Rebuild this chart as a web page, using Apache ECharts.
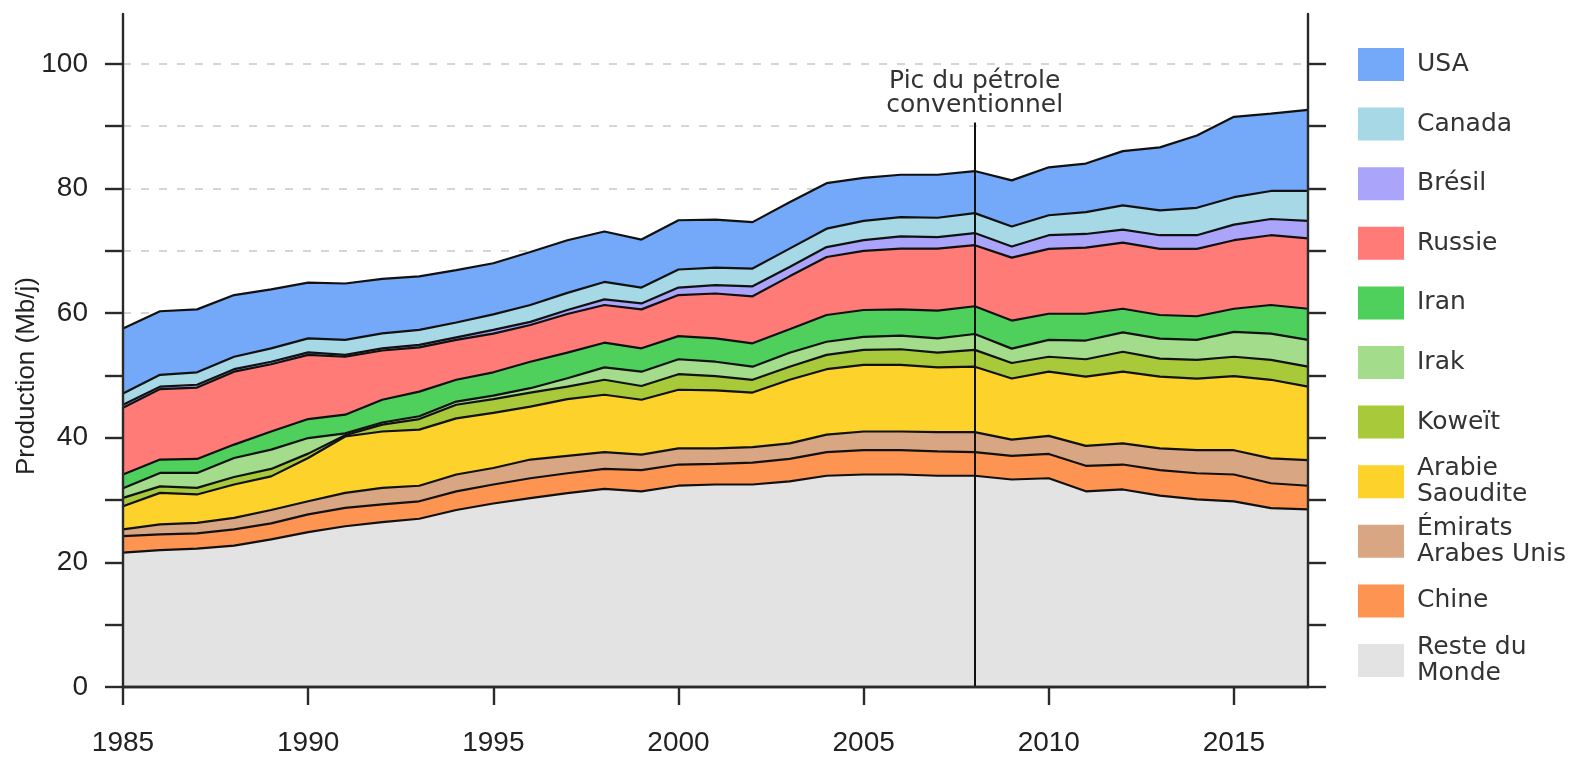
<!DOCTYPE html>
<html>
<head>
<meta charset="utf-8">
<title>Production de pétrole</title>
<script src="https://cdn.jsdelivr.net/npm/echarts@6/dist/echarts.min.js"></script>
<style>
html, body { margin: 0; padding: 0; background: #fff; }
#charts { width: 1575px; height: 757px; }
</style>
</head>
<body>
<div id="charts"></div>
<script>
// années
const years = ['1985', '1986', '1987', '1988', '1989', '1990', '1991', '1992', '1993', '1994',
    '1995', '1996', '1997', '1998', '1999', '2000', '2001', '2002', '2003', '2004',
    '2005', '2006', '2007', '2008', '2009', '2010', '2011', '2012', '2013', '2014',
    '2015', '2016', '2017'];

// production par pays (Mb/j)
const reste = [21.55, 21.97, 22.2, 22.7, 23.7, 24.85, 25.8, 26.45, 27.0, 28.4,
    29.45, 30.3, 31.1, 31.8, 31.4, 32.3, 32.5, 32.5, 33.0, 33.9,
    34.1, 34.1, 33.9, 33.9, 33.3, 33.5, 31.4, 31.7, 30.7, 30.1,
    29.8, 28.7, 28.5];
const chine = [2.65, 2.53, 2.45, 2.6, 2.55, 2.85, 2.95, 2.85, 2.8, 3.0,
    3.05, 3.2, 3.2, 3.2, 3.4, 3.4, 3.3, 3.5, 3.6, 3.8,
    3.9, 3.9, 3.9, 3.8, 3.8, 3.9, 4.1, 4.0, 4.1, 4.2,
    4.3, 4.0, 3.8];
const emirats = [1.1, 1.6, 1.7, 1.85, 2.15, 2.1, 2.4, 2.65, 2.5, 2.7,
    2.65, 3.0, 2.8, 2.7, 2.5, 2.6, 2.5, 2.5, 2.5, 2.8,
    3.0, 3.0, 3.1, 3.2, 2.6, 2.9, 3.2, 3.4, 3.5, 3.7,
    3.9, 4.0, 4.1];
const arabie = [3.7, 5.05, 4.55, 5.35, 5.4, 6.95, 9.05, 9.05, 9.0, 9.0,
    8.85, 8.5, 9.1, 9.2, 8.8, 9.4, 9.3, 8.75, 10.2, 10.5,
    10.7, 10.7, 10.4, 10.5, 9.8, 10.3, 11.1, 11.5, 11.5, 11.5,
    11.9, 12.6, 11.8];
const koweit = [1.35, 1.05, 1.05, 1.2, 1.2, 0.7, 0.2, 1.1, 1.7, 2.2,
    2.2, 2.25, 2.0, 2.4, 2.2, 2.5, 2.3, 2.05, 2.1, 2.3,
    2.4, 2.5, 2.35, 2.7, 2.5, 2.4, 2.8, 3.2, 2.9, 3.0,
    3.1, 3.2, 3.2];
const irak = [1.55, 2.15, 2.4, 3.05, 3.1, 2.5, 0.3, 0.35, 0.45, 0.5,
    0.55, 0.7, 1.35, 2.0, 2.3, 2.4, 2.3, 2.1, 2.25, 2.1,
    2.1, 2.2, 2.3, 2.55, 2.3, 2.7, 3.0, 3.1, 3.2, 3.2,
    4.0, 4.2, 4.3];
const iran = [2.2, 2.15, 2.25, 2.15, 2.9, 3.05, 3.0, 3.65, 3.95, 3.5,
    3.75, 4.25, 4.1, 3.95, 3.75, 3.7, 3.75, 3.75, 3.75, 4.3,
    4.3, 4.2, 4.45, 4.45, 4.5, 4.2, 4.3, 3.8, 3.8, 3.8,
    3.7, 4.6, 5.0];
const russie = [10.7, 11.3, 11.45, 11.7, 10.8, 10.3, 9.3, 7.9, 7.1, 6.4,
    6.2, 5.9, 6.2, 6.05, 6.25, 6.6, 7.2, 7.55, 8.5, 9.3,
    9.5, 9.75, 9.95, 9.8, 10.1, 10.4, 10.6, 10.6, 10.6, 10.8,
    11.0, 11.2, 11.3];
const bresil = [0.5, 0.4, 0.45, 0.4, 0.4, 0.4, 0.3, 0.35, 0.4, 0.4,
    0.6, 0.5, 0.65, 0.9, 0.95, 1.2, 1.35, 1.6, 1.5, 1.6,
    1.7, 1.95, 1.85, 1.95, 1.8, 2.2, 2.2, 2.1, 2.2, 2.2,
    2.5, 2.6, 2.8];
const canada = [1.8, 1.9, 2.0, 2.0, 2.15, 2.25, 2.4, 2.4, 2.4, 2.4,
    2.5, 2.7, 2.75, 2.8, 2.55, 2.9, 2.8, 2.85, 2.95, 2.95,
    3.1, 3.1, 3.1, 3.2, 3.2, 3.2, 3.5, 3.9, 4.0, 4.4,
    4.4, 4.5, 4.8];
const usa = [10.45, 10.2, 10.1, 9.9, 9.45, 8.95, 9.05, 8.75, 8.6, 8.4,
    8.2, 8.5, 8.45, 8.1, 7.7, 7.9, 7.7, 7.45, 7.45, 7.3,
    6.9, 6.8, 6.9, 6.75, 7.4, 7.7, 7.8, 8.7, 10.1, 11.6,
    12.9, 12.4, 13.0];

// de bas en haut
const names = ['Reste du Monde', 'Chine', 'Émirats Arabes Unis', 'Arabie Saoudite', 'Koweït',
    'Irak', 'Iran', 'Russie', 'Brésil', 'Canada', 'USA'];
const legendLabels = {
    'Reste du Monde': 'Reste du\nMonde',
    'Émirats Arabes Unis': 'Émirats\nArabes Unis',
    'Arabie Saoudite': 'Arabie\nSaoudite'
};
const colors = ['#e3e3e3', '#fd9452', '#d9a683', '#fdd22a', '#a7c93a',
    '#a3dd8c', '#4fcf5b', '#ff7b78', '#aaa5fb', '#a6d8e6', '#74a8f8'];

const yTicks = [0, 10, 20, 30, 40, 50, 60, 70, 80, 90, 100];
const yLabels = [0, 20, 40, 60, 80, 100];
const peakYear = '2008';
const peakTop = 90.6;
const peakText = 'Pic du pétrole\nconventionnel';

var option;
let myChart = echarts.init(document.getElementById('charts'));

const values = [reste, chine, emirats, arabie, koweit, irak, iran, russie, bresil, canada, usa];

var series = names.map(function (n, i) {
    return {
        name: n,
        type: 'line',
        stack: 'total',
        data: values[i],
        symbol: 'none',
        showSymbol: false,
        lineStyle: { color: '#111', width: 2.2 },
        areaStyle: { color: colors[i], opacity: 1 },
        emphasis: { disabled: true },
        z: 2
    };
});

// trait vertical du pic
series[series.length - 1].markLine = {
    silent: true,
    symbol: 'none',
    animation: false,
    lineStyle: { color: '#111', width: 2, type: 'solid' },
    label: {
        show: true,
        position: 'end',
        distance: 5,
        formatter: peakText,
        fontFamily: 'DejaVu Sans',
        fontSize: 25,
        lineHeight: 24,
        color: '#333'
    },
    data: [[{ coord: [peakYear, 0] }, { coord: [peakYear, peakTop] }]]
};

// une légende par pays, pour placer chaque carré
const legendOrder = names.slice().reverse();
var legends = legendOrder.map(function (n, i) {
    const label = legendLabels[n] || n;
    const lines = label.split('\n').length;
    const half = Math.max(16.5, lines * 26 / 2);
    return {
        data: [{ name: n, icon: 'rect', itemStyle: { color: colors[names.indexOf(n)], borderWidth: 0 } }],
        orient: 'vertical',
        left: 1358,
        top: 64.5 + i * 59.6 - half,
        padding: 0,
        itemWidth: 46,
        itemHeight: 33,
        selectedMode: false,
        formatter: function () { return label; },
        textStyle: {
            fontFamily: 'DejaVu Sans',
            fontSize: 25,
            lineHeight: 26,
            color: '#333',
            padding: [0, 0, 0, 8]
        }
    };
});

const axisCol = '#2a2a2a';

option = {
    animation: false,
    backgroundColor: '#fff',
    grid: { left: 123, right: 267, top: 14, bottom: 69 },
    legend: legends,
    xAxis: [{
        type: 'category',
        data: years,
        boundaryGap: false,
        z: 5,
        axisLine: { show: true, lineStyle: { color: axisCol, width: 2.4 } },
        axisTick: { show: true, interval: 4, length: 18, lineStyle: { color: axisCol, width: 2.4 } },
        axisLabel: { interval: 4, margin: 42, fontFamily: 'Liberation Sans', fontSize: 28, color: '#222' },
        splitLine: { show: false }
    }, {
        type: 'category',
        data: years,
        boundaryGap: false,
        position: 'top',
        z: 5,
        axisLine: { show: true, lineStyle: { color: axisCol, width: 2.4 } },
        axisTick: { show: false },
        axisLabel: { show: false },
        splitLine: { show: false }
    }],
    yAxis: [{
        type: 'value',
        min: 0, max: 108, interval: 10,
        position: 'left',
        z: 5,
        axisLine: { show: true, lineStyle: { color: axisCol, width: 2.4 } },
        axisTick: { show: true, length: 18, customValues: yTicks, lineStyle: { color: axisCol, width: 2.4 } },
        axisLabel: {
            customValues: yLabels, margin: 35,
            fontFamily: 'Liberation Sans', fontSize: 28, color: '#222',
            formatter: function (v) { return (v % 20 === 0 && v <= 100) ? String(v) : ''; }
        },
        splitLine: { show: false }
    }, {
        type: 'value',
        min: 0, max: 108, interval: 10,
        position: 'right',
        z: 5,
        axisLine: { show: true, lineStyle: { color: axisCol, width: 2.4 } },
        axisTick: { show: true, length: 18, customValues: yTicks, lineStyle: { color: axisCol, width: 2.4 } },
        axisLabel: { show: false },
        splitLine: { show: false }
    }, {
        // seulement pour la grille pointillée, sous les aires
        type: 'value',
        min: 0, max: 108, interval: 10,
        position: 'left',
        z: 0,
        axisLine: { show: false },
        axisTick: { show: false },
        axisLabel: { show: false },
        splitLine: {
            show: true, showMinLine: false, showMaxLine: false,
            lineStyle: { color: '#c8c8c8', width: 1.5, type: [8, 10] }
        }
    }],
    graphic: [{
        type: 'text',
        x: 27,
        y: 376,
        rotation: Math.PI / 2,
        style: {
            text: 'Production (Mb/j)',
            font: '26px "Liberation Sans"',
            fill: '#222',
            align: 'center',
            verticalAlign: 'middle'
        }
    }],
    series: series
};

option && myChart.setOption(option);
</script>
</body>
</html>
